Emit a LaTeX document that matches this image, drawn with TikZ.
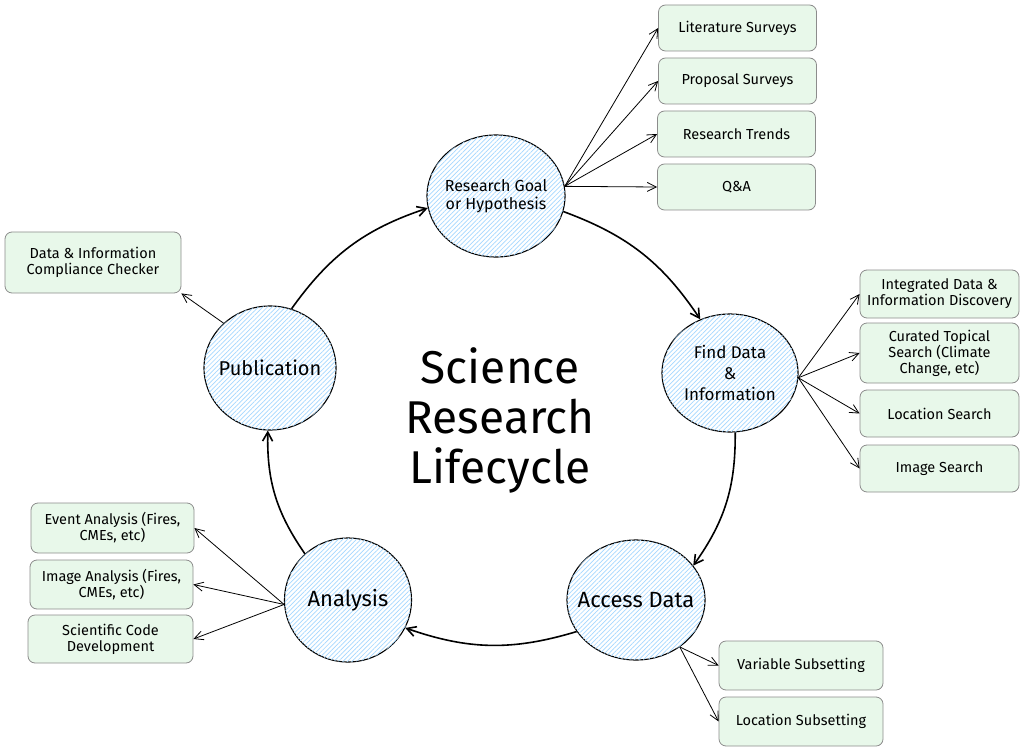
\documentclass[tikz,border=0pt]{standalone}
\usepackage{fontspec}
\setmainfont{Fira Sans}
\usetikzlibrary{shapes.geometric,arrows.meta,patterns.meta}
\definecolor{hatchblue}{HTML}{A5D8FF}
\definecolor{taskfill}{HTML}{E8F8EA}
\definecolor{taskline}{HTML}{8C8C8C}
\begin{document}
\begin{tikzpicture}[x=1pt, y=-1pt,
    stage/.style={ellipse, draw=black, line width=1.1pt, fill=white,
        postaction={pattern={Lines[angle=45,distance=3.2pt,line width=0.7pt]}, pattern color=hatchblue},
        minimum width=138pt, minimum height=122pt, inner sep=0pt},
    stagetext/.style 2 args={align=center, inner sep=0pt, font=\fontsize{#1}{#2}\selectfont},
    task/.style={rectangle, rounded corners=7pt, draw=taskline, line width=0.8pt, fill=taskfill,
        minimum width=158pt, minimum height=46pt, align=center, inner sep=2pt,
        font=\fontsize{14.5}{16}\selectfont},
    flow/.style={-{Straight Barb[length=9pt,width=10pt]}, line width=1.6pt, bend left=18},
    link/.style={-{Straight Barb[length=9pt,width=9pt]}, line width=0.8pt}]
    \useasboundingbox (0,0) rectangle (1024,751);
    % stages of the cycle
    \node[stage, label={[stagetext={16}{18}]center:{Research Goal\\or Hypothesis}}] (goal) at (496,196) {};
    \node[stage, minimum width=136pt, minimum height=118pt,
        label={[stagetext={17}{21}]center:{Find Data\\\&\\Information}}] (find) at (730,373) {};
    \node[stage, minimum width=138pt, minimum height=120pt,
        label={[stagetext={22}{24}]center:{Access Data}}] (access) at (636,600) {};
    \node[stage, minimum width=127pt, minimum height=124pt,
        label={[stagetext={22}{24}]center:{Analysis}}] (analysis) at (348,600) {};
    \node[stage, minimum width=132pt, minimum height=124pt,
        label={[stagetext={20}{22}]center:{Publication}}] (pub) at (270,368) {};
    \node[align=center, font=\fontsize{46}{50}\selectfont] (title) at (500,420) {Science\\Research\\Lifecycle};
    % tasks
    \node[task] (lit) at (737.5,28) {Literature Surveys};
    \node[task] (prop) at (737.5,81) {Proposal Surveys};
    \node[task] (trend) at (736.5,134) {Research Trends};
    \node[task] (qa) at (736.5,187) {Q\&A};
    \node[task, minimum width=176pt, minimum height=61pt] (check) at (93,262.5) {Data \& Information\\Compliance Checker};
    \node[task, minimum width=159pt, minimum height=48pt] (integ) at (939.5,294) {Integrated Data \&\\Information Discovery};
    \node[task, minimum width=159pt, minimum height=60pt] (curated) at (939.5,353) {Curated Topical\\Search (Climate\\Change, etc)};
    \node[task, minimum width=159pt, minimum height=47pt] (locs) at (939.5,413.5) {Location Search};
    \node[task, minimum width=159pt, minimum height=47pt] (imgs) at (939.5,468.5) {Image Search};
    \node[task, minimum width=163pt, minimum height=50pt] (event) at (112.5,528) {Event Analysis (Fires,\\CMEs, etc)};
    \node[task, minimum width=163pt, minimum height=49pt] (imga) at (111.5,584.5) {Image Analysis (Fires,\\CMEs, etc)};
    \node[task, minimum width=165pt, minimum height=48pt] (code) at (110.5,639) {Scientific Code\\Development};
    \node[task, minimum width=164pt, minimum height=49pt] (varsub) at (801,665.5) {Variable Subsetting};
    \node[task, minimum width=164pt, minimum height=49pt] (locsub) at (801,721.5) {Location Subsetting};
    % cycle
    \draw[flow] (goal.-13) to (find.119);
    \draw[flow] (find.-85) to (access.31);
    \draw[flow] (access.-152) to (analysis.-26);
    \draw[flow] (analysis.133) to (pub.-92);
    \draw[flow] (pub.70) to (goal.-170);
    % branches
    \foreach \t in {lit,prop,trend,qa}
        \draw[link] (goal.8) -- (\t.west);
    \foreach \t in {integ,curated,locs,imgs}
        \draw[link] (find.-4) -- (\t.west);
    \foreach \t in {event,imga,code}
        \draw[link] (analysis.184) -- (\t.east);
    \foreach \t in {varsub,locsub}
        \draw[link] (access.-47) -- (\t.west);
    \draw[link] (pub.136) -- (check.south east);
\end{tikzpicture}
\end{document}
